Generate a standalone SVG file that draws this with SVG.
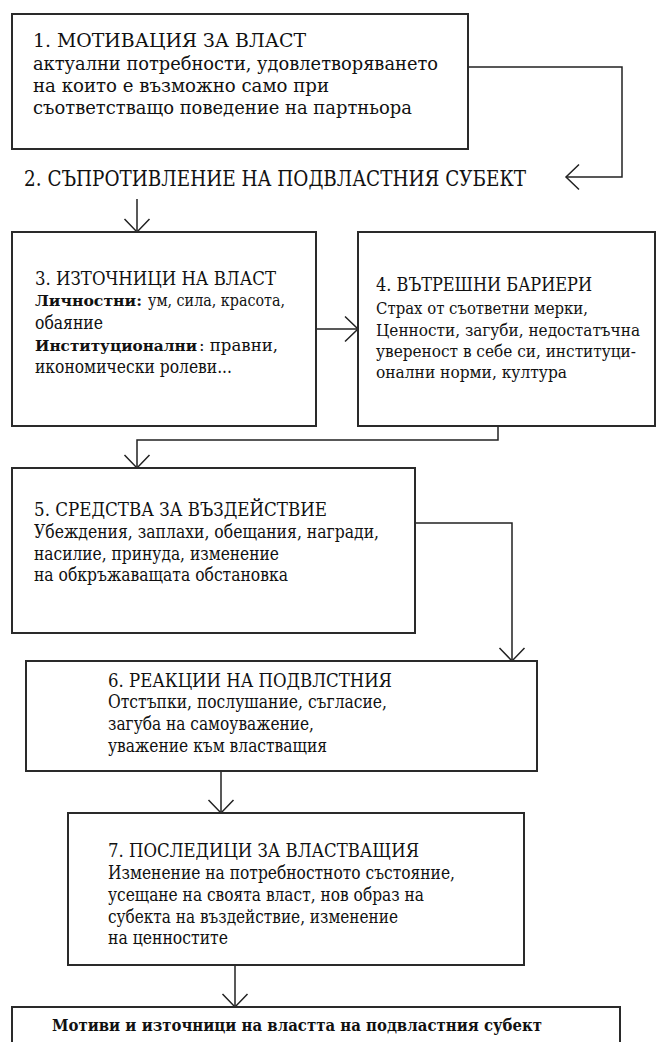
<svg xmlns="http://www.w3.org/2000/svg" width="657" height="1042" viewBox="0 0 657 1042">
  <defs>
    <marker id="arrow" markerUnits="userSpaceOnUse" markerWidth="30" markerHeight="30" viewBox="-15 -15 30 30" refX="0" refY="0" orient="auto" overflow="visible">
      <path d="M-13,-12.5 L0,0 L-13,12.5" fill="none" stroke="#222" stroke-width="1.5"/>
    </marker>
    <style>
      .box { fill: #fff; stroke: #2a2a2a; stroke-width: 2; }
      .conn { fill: none; stroke: #222; stroke-width: 1.5; }
      .t { font-size: 19px; }
      .b { font-size: 18px; }
      .bn { font-size: 16px; }
      .bold { font-size: 15px; font-weight: bold; }
      .r { font-size: 17px; }
      .head { font-size: 23px; }
      .small { font-size: 16px; font-weight: bold; }
    </style>
  </defs>
  <rect width="657" height="1042" fill="#fff"/>

  <!-- connectors -->
  <g id="connectors">
    <path class="conn" d="M468,67 H622 V177 H566" marker-end="url(#arrow)"/>
    <path class="conn" d="M137,199 V232" marker-end="url(#arrow)"/>
    <path class="conn" d="M316,329 H358" marker-end="url(#arrow)"/>
    <path class="conn" d="M498,426 V440 H137 V468" marker-end="url(#arrow)"/>
    <path class="conn" d="M415,523 H512 V661" marker-end="url(#arrow)"/>
    <path class="conn" d="M221,771 V813" marker-end="url(#arrow)"/>
    <path class="conn" d="M235,965 V1007" marker-end="url(#arrow)"/>
  </g>

  <g font-family="'DejaVu Serif', 'Liberation Serif', serif" fill="#111">
  <!-- 1. motivation -->
  <g id="node1">
    <rect class="box" x="12" y="14" width="456" height="135"/>
    <text class="t" x="33" y="47" textLength="273" lengthAdjust="spacingAndGlyphs">1. МОТИВАЦИЯ ЗА ВЛАСТ</text>
    <text class="b" x="33" y="70" textLength="405" lengthAdjust="spacingAndGlyphs">актуални потребности, удовлетворяването</text>
    <text class="b" x="33" y="92" textLength="296" lengthAdjust="spacingAndGlyphs">на които е възможно само при</text>
    <text class="b" x="33" y="114" textLength="379" lengthAdjust="spacingAndGlyphs">съответстващо поведение на партньора</text>
  </g>

  <!-- 2. resistance (label only) -->
  <g id="node2">
    <text class="head" x="24" y="186" textLength="502" lengthAdjust="spacingAndGlyphs">2. СЪПРОТИВЛЕНИЕ НА ПОДВЛАСТНИЯ СУБЕКТ</text>
  </g>

  <!-- 3. sources of power -->
  <g id="node3">
    <rect class="box" x="12" y="232" width="304" height="194"/>
    <text class="t" x="35" y="285" textLength="241" lengthAdjust="spacingAndGlyphs">3. ИЗТОЧНИЦИ НА ВЛАСТ</text>
    <text class="bold" x="35" y="306" textLength="107" lengthAdjust="spacingAndGlyphs">Личностни:</text>
    <text class="r" x="148" y="306" textLength="137" lengthAdjust="spacingAndGlyphs">ум, сила, красота,</text>
    <text class="b" x="35" y="329" textLength="68" lengthAdjust="spacingAndGlyphs">обаяние</text>
    <text class="bold" x="35" y="351" textLength="162" lengthAdjust="spacingAndGlyphs">Институционални</text>
    <text class="r" x="199" y="351" textLength="79" lengthAdjust="spacingAndGlyphs">: правни,</text>
    <text class="b" x="35" y="373" textLength="197" lengthAdjust="spacingAndGlyphs">икономически ролеви...</text>
  </g>

  <!-- 4. inner barriers -->
  <g id="node4">
    <rect class="box" x="358" y="232" width="297" height="194"/>
    <text class="t" x="376" y="291" textLength="216" lengthAdjust="spacingAndGlyphs">4. ВЪТРЕШНИ БАРИЕРИ</text>
    <text class="bn" x="376" y="314" textLength="212" lengthAdjust="spacingAndGlyphs">Страх от съответни мерки,</text>
    <text class="bn" x="376" y="336" textLength="264" lengthAdjust="spacingAndGlyphs">Ценности, загуби, недостатъчна</text>
    <text class="bn" x="376" y="357" textLength="260" lengthAdjust="spacingAndGlyphs">увереност в себе си, институци-</text>
    <text class="bn" x="376" y="378" textLength="191" lengthAdjust="spacingAndGlyphs">онални норми, култура</text>
  </g>

  <!-- 5. means of influence -->
  <g id="node5">
    <rect class="box" x="12" y="468" width="403" height="165"/>
    <text class="t" x="34" y="516" textLength="293" lengthAdjust="spacingAndGlyphs">5. СРЕДСТВА ЗА ВЪЗДЕЙСТВИЕ</text>
    <text class="b" x="34" y="538" textLength="345" lengthAdjust="spacingAndGlyphs">Убеждения, заплахи, обещания, награди,</text>
    <text class="b" x="34" y="560" textLength="245" lengthAdjust="spacingAndGlyphs">насилие, принуда, изменение</text>
    <text class="b" x="34" y="581" textLength="254" lengthAdjust="spacingAndGlyphs">на обкръжаващата обстановка</text>
  </g>

  <!-- 6. reactions -->
  <g id="node6">
    <rect class="box" x="26" y="661" width="511" height="110"/>
    <text class="t" x="108" y="687" textLength="284" lengthAdjust="spacingAndGlyphs">6. РЕАКЦИИ НА ПОДВЛСТНИЯ</text>
    <text class="b" x="108" y="708" textLength="279" lengthAdjust="spacingAndGlyphs">Отстъпки, послушание, съгласие,</text>
    <text class="b" x="108" y="730" textLength="206" lengthAdjust="spacingAndGlyphs">загуба на самоуважение,</text>
    <text class="b" x="108" y="752" textLength="219" lengthAdjust="spacingAndGlyphs">уважение към властващия</text>
  </g>

  <!-- 7. consequences -->
  <g id="node7">
    <rect class="box" x="68" y="813" width="456" height="152"/>
    <text class="t" x="108" y="857" textLength="311" lengthAdjust="spacingAndGlyphs">7. ПОСЛЕДИЦИ ЗА ВЛАСТВАЩИЯ</text>
    <text class="b" x="108" y="879" textLength="347" lengthAdjust="spacingAndGlyphs">Изменение на потребностното състояние,</text>
    <text class="b" x="108" y="901" textLength="316" lengthAdjust="spacingAndGlyphs">усещане на своята власт, нов образ на</text>
    <text class="b" x="108" y="923" textLength="290" lengthAdjust="spacingAndGlyphs">субекта на въздействие, изменение</text>
    <text class="b" x="108" y="944" textLength="120" lengthAdjust="spacingAndGlyphs">на ценностите</text>
  </g>

  <!-- 8. motives of the subordinate -->
  <g id="node8">
    <rect class="box" x="12" y="1007" width="608" height="60"/>
    <text class="small" x="52" y="1031" textLength="490" lengthAdjust="spacingAndGlyphs">Мотиви и източници на властта на подвластния субект</text>
  </g>
  </g>
</svg>
